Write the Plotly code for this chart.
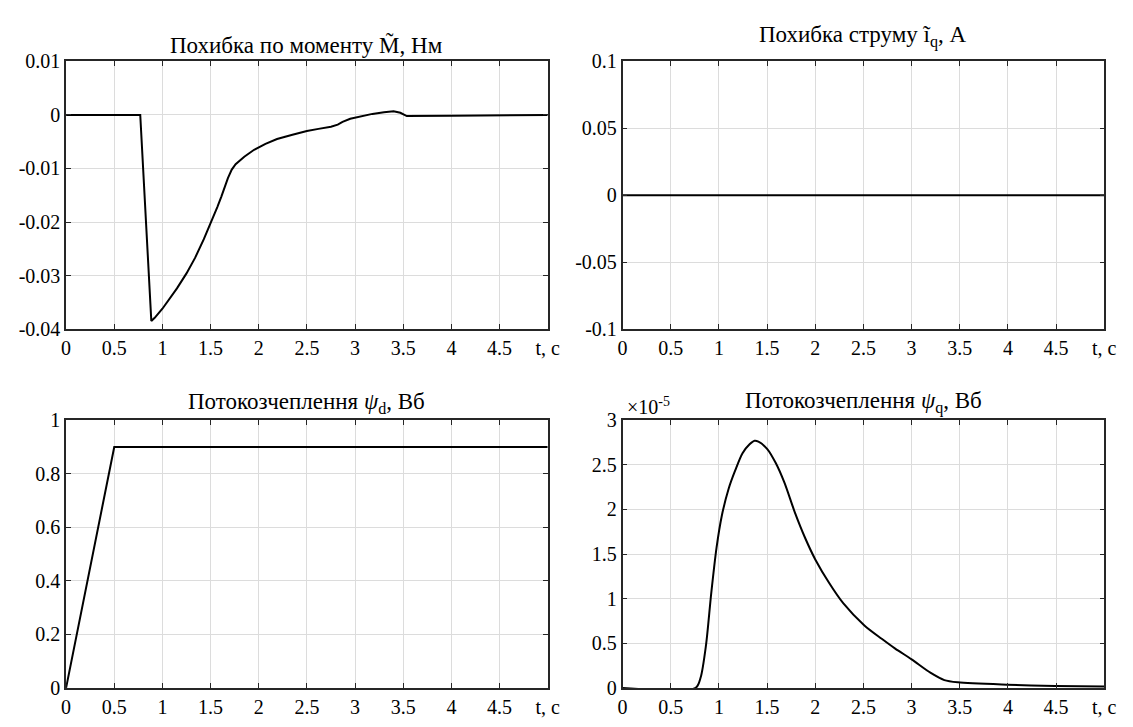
import plotly.graph_objects as go

# ---- data ----
t_torque = [0, 0.77, 0.885, 0.92, 1.0, 1.08, 1.151, 1.25, 1.339, 1.43, 1.509, 1.57, 1.611,
            1.65, 1.68, 1.72, 1.76, 1.85, 1.952, 2.07, 2.19, 2.35, 2.5, 2.62, 2.75, 2.82,
            2.87, 2.95, 3.04, 3.18, 3.30, 3.40, 3.47, 3.537, 4.0, 4.5, 5.0]
torque_err = [0, 0, -0.0385, -0.0379, -0.0362, -0.0343, -0.0324, -0.0296, -0.0267, -0.0232,
              -0.0200, -0.0172, -0.0153, -0.0133, -0.0118, -0.0102, -0.0092, -0.0078,
              -0.0065, -0.0054, -0.0045, -0.0037, -0.0030, -0.0026, -0.0022, -0.0018,
              -0.0013, -0.0007, -0.0003, 0.0002, 0.0005, 0.0007, 0.0004, -0.0002,
              -0.00015, -0.0001, 0.0]

t_iq = [0, 1.0, 2.0, 3.0, 4.0, 5.0]
iq_err = [0, 0, 0, 0, 0, 0]

t_psid = [0, 0.5, 1.0, 2.0, 3.0, 4.0, 5.0]
psi_d = [0, 0.9, 0.9, 0.9, 0.9, 0.9, 0.9]

t_psiq = [0, 0.758, 0.81, 0.866, 0.92, 0.975, 1.03, 1.10, 1.17, 1.245, 1.318, 1.37, 1.41,
          1.50, 1.59, 1.68, 1.787, 1.895, 2.0, 2.148, 2.29, 2.51, 2.69, 2.83, 3.0, 3.195,
          3.34, 3.48, 3.99, 4.49, 5.0]
psi_q_e5 = [0, 0, 0.116, 0.48, 1.06, 1.57, 1.93, 2.23, 2.44, 2.63, 2.73, 2.77, 2.76,
            2.68, 2.52, 2.30, 1.97, 1.68, 1.44, 1.17, 0.95, 0.70, 0.55, 0.44, 0.32, 0.17,
            0.087, 0.062, 0.036, 0.022, 0.015]

x_ticks = [0, 0.5, 1, 1.5, 2, 2.5, 3, 3.5, 4, 4.5, 5]
x_ticktext = ["0", "0.5", "1", "1.5", "2", "2.5", "3", "3.5", "4", "4.5", "t, c"]

y1_ticks = [-0.04, -0.03, -0.02, -0.01, 0, 0.01]
y1_text = ["-0.04", "-0.03", "-0.02", "-0.01", "0", "0.01"]
y2_ticks = [-0.1, -0.05, 0, 0.05, 0.1]
y2_text = ["-0.1", "-0.05", "0", "0.05", "0.1"]
y3_ticks = [0, 0.2, 0.4, 0.6, 0.8, 1]
y3_text = ["0", "0.2", "0.4", "0.6", "0.8", "1"]
y4_ticks = [0, 0.5, 1, 1.5, 2, 2.5, 3]
y4_text = ["0", "0.5", "1", "1.5", "2", "2.5", "3"]

titles = ["Похибка по моменту M\u0303, Нм",
          "Похибка струму \u0129<sub>q</sub>, А",
          "Потокозчеплення <i>ψ</i><sub>d</sub>, Вб",
          "Потокозчеплення <i>ψ</i><sub>q</sub>, Вб"]

# ---- layout geometry (pixels) ----
W, H = 1133, 727
cols = [(62, 551), (627, 1116)]
rows = [(52, 328), (422, 698)]

FONT = "Liberation Serif"
AX = "#262626"
TICK_SIZE = 20
TITLE_SIZE = 23

fig = go.Figure()
series = [(t_torque, torque_err, "linear"), (t_iq, iq_err, "linear"),
          (t_psid, psi_d, "linear"), (t_psiq, psi_q_e5, "spline")]
yinfo = [([-0.04, 0.01], y1_ticks, y1_text), ([-0.1, 0.1], y2_ticks, y2_text),
         ([0, 1], y3_ticks, y3_text), ([0, 3], y4_ticks, y4_text)]
title_shift = [1, 8, 1, 1]

layout = dict(width=W, height=H, margin=dict(l=0, r=0, t=0, b=0),
              paper_bgcolor="white", plot_bgcolor="white", showlegend=False,
              font=dict(family=FONT, size=TICK_SIZE, color="#000000"))
annotations = []
for i, ((tx, ty, shape), (yr, yt, ytt)) in enumerate(zip(series, yinfo)):
    r, c = divmod(i, 2)
    x0, x1 = cols[c]
    y0, y1 = rows[r]
    xa = "xaxis" if i == 0 else f"xaxis{i+1}"
    ya = "yaxis" if i == 0 else f"yaxis{i+1}"
    xref = "x" if i == 0 else f"x{i+1}"
    yref = "y" if i == 0 else f"y{i+1}"
    line = dict(color="black", width=2, shape=shape)
    if shape == "spline":
        line["smoothing"] = 0.8
    fig.add_trace(go.Scatter(x=tx, y=ty, mode="lines", line=line,
                             xaxis=xref, yaxis=yref, hoverinfo="skip"))
    common = dict(ticks="inside", ticklen=5, tickcolor=AX, showline=True, linecolor=AX,
                  linewidth=1.5, mirror="ticks", showgrid=True, gridcolor="#dcdcdc",
                  gridwidth=1, zeroline=False,
                  tickfont=dict(family=FONT, size=TICK_SIZE, color="#000"))
    layout[xa] = dict(domain=[x0 / W, x1 / W], range=[0, 5], anchor=yref,
                      tickvals=x_ticks, ticktext=x_ticktext, **common)
    layout[ya] = dict(domain=[1 - y1 / H, 1 - y0 / H], range=yr, anchor=xref,
                      tickvals=yt, ticktext=ytt, **common)
    annotations.append(dict(text=titles[i], xref="paper", yref="paper",
                            x=(x0 + x1) / 2 / W, y=1 - y0 / H, xanchor="center",
                            yanchor="bottom", yshift=title_shift[i], showarrow=False,
                            font=dict(family=FONT, size=TITLE_SIZE, color="#000")))

annotations.append(dict(text="×10<sup>-5</sup>", xref="paper", yref="paper",
                        x=(cols[1][0] + 2) / W, y=1 - rows[1][0] / H, xanchor="left",
                        yanchor="bottom", yshift=0, showarrow=False,
                        font=dict(family=FONT, size=20, color="#000")))
layout["annotations"] = annotations
fig.update_layout(**layout)
fig.write_html("out.html", config={"displayModeBar": False},
               post_script="document.body.style.margin='0';document.body.style.overflow='hidden';")
